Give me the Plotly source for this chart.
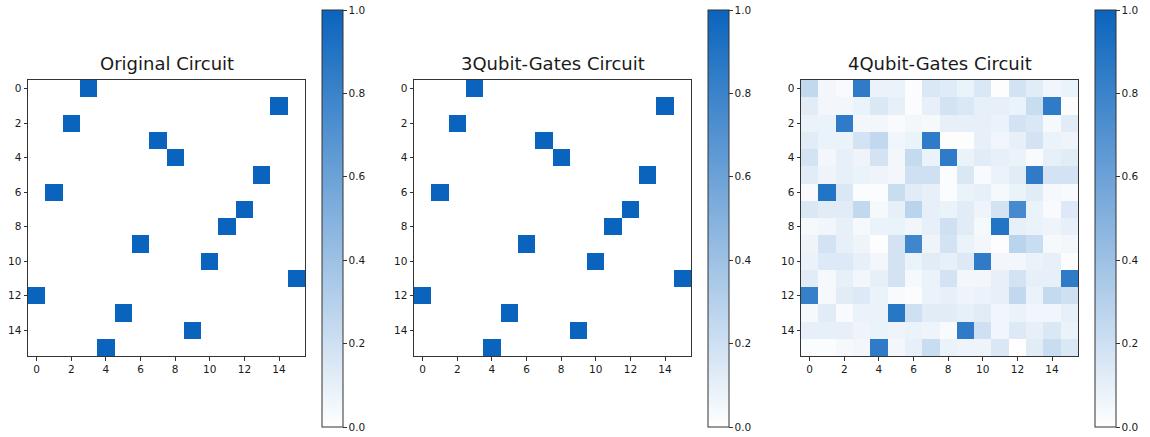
import plotly.graph_objects as go

# permutation: row index -> column of the 1 entry
perm_cols = [3, 14, 2, 7, 8, 13, 1, 12, 11, 6, 10, 15, 0, 5, 9, 4]
titles = ["Original Circuit", "3Qubit-Gates Circuit", "4Qubit-Gates Circuit"]
tick_vals = [0, 2, 4, 6, 8, 10, 12, 14]
cbar_ticks = [0.0, 0.2, 0.4, 0.6, 0.8, 1.0]

original = [[1.0 if c == perm_cols[r] else 0.0 for c in range(16)] for r in range(16)]
qubit3 = [[1.0 if c == perm_cols[r] else 0.0 for c in range(16)] for r in range(16)]
qubit4 = [
    [0.25, 0.05, 0.03, 0.85, 0.08, 0.08, 0.02, 0.15, 0.13, 0.08, 0.15, 0.01, 0.18, 0.12, 0.06, 0.08],
    [0.12, 0.05, 0.05, 0.08, 0.15, 0.10, 0.02, 0.10, 0.18, 0.15, 0.10, 0.10, 0.08, 0.22, 0.85, 0.02],
    [0.08, 0.08, 0.85, 0.05, 0.05, 0.03, 0.05, 0.04, 0.10, 0.10, 0.10, 0.08, 0.18, 0.15, 0.04, 0.12],
    [0.12, 0.08, 0.08, 0.18, 0.25, 0.06, 0.08, 0.85, 0.01, 0.01, 0.10, 0.06, 0.10, 0.18, 0.08, 0.07],
    [0.18, 0.05, 0.10, 0.07, 0.18, 0.05, 0.24, 0.08, 0.85, 0.08, 0.12, 0.10, 0.08, 0.03, 0.10, 0.12],
    [0.12, 0.07, 0.10, 0.08, 0.07, 0.05, 0.20, 0.20, 0.02, 0.15, 0.03, 0.08, 0.12, 0.85, 0.18, 0.18],
    [0.03, 0.90, 0.15, 0.02, 0.02, 0.22, 0.12, 0.10, 0.02, 0.08, 0.10, 0.04, 0.08, 0.12, 0.04, 0.03],
    [0.15, 0.12, 0.12, 0.25, 0.04, 0.10, 0.28, 0.10, 0.08, 0.12, 0.07, 0.18, 0.75, 0.08, 0.03, 0.14],
    [0.04, 0.06, 0.10, 0.04, 0.08, 0.08, 0.06, 0.10, 0.20, 0.12, 0.04, 0.90, 0.10, 0.08, 0.07, 0.10],
    [0.07, 0.18, 0.10, 0.07, 0.01, 0.18, 0.78, 0.07, 0.18, 0.08, 0.05, 0.01, 0.28, 0.22, 0.04, 0.05],
    [0.08, 0.14, 0.14, 0.10, 0.05, 0.18, 0.08, 0.12, 0.10, 0.14, 0.85, 0.05, 0.05, 0.08, 0.10, 0.02],
    [0.12, 0.04, 0.10, 0.05, 0.10, 0.18, 0.04, 0.08, 0.18, 0.05, 0.05, 0.10, 0.18, 0.10, 0.10, 0.85],
    [0.82, 0.04, 0.12, 0.14, 0.08, 0.03, 0.02, 0.08, 0.10, 0.07, 0.08, 0.10, 0.25, 0.08, 0.24, 0.20],
    [0.04, 0.12, 0.03, 0.08, 0.08, 0.88, 0.20, 0.12, 0.12, 0.10, 0.12, 0.06, 0.08, 0.06, 0.06, 0.10],
    [0.10, 0.10, 0.10, 0.07, 0.08, 0.07, 0.08, 0.07, 0.03, 0.85, 0.20, 0.06, 0.14, 0.10, 0.15, 0.08],
    [0.02, 0.02, 0.04, 0.05, 0.85, 0.05, 0.10, 0.22, 0.08, 0.07, 0.07, 0.15, 0.00, 0.12, 0.22, 0.15],
]
matrices = [original, qubit3, qubit4]

W, H = 1150, 437
plot_left = [28, 414, 801]
plot_w = 277
plot_top, plot_bottom = 80, 356
cbar_left = [322, 708, 1095]
cbar_top, cbar_bottom = 10, 427

colorscale = [[0.0, "#ffffff"], [1.0, "#0a64bd"]]
FONT = "DejaVu Sans"
INK = "#1a1a1a"

fig = go.Figure()
for i, z in enumerate(matrices):
    ax = "" if i == 0 else str(i + 1)
    fig.add_trace(go.Heatmap(
        z=z, x=list(range(16)), y=list(range(16)),
        xaxis="x" + ax, yaxis="y" + ax,
        zmin=0, zmax=1, colorscale=colorscale,
        hoverinfo="skip",
        colorbar=dict(
            x=cbar_left[i] / W, xanchor="left",
            y=1 - (cbar_top + cbar_bottom) / 2 / H, yanchor="middle",
            len=(cbar_bottom - cbar_top) / H, lenmode="fraction",
            thickness=21, thicknessmode="pixels",
            xpad=0, ypad=0,
            outlinecolor="#333", outlinewidth=1,
            tickvals=cbar_ticks, tickformat=".1f",
            ticks="outside", ticklen=3.5, tickcolor="#333",
            ticklabeloverflow="allow",
            tickfont=dict(family=FONT, size=10.5, color=INK),
        ),
    ))
    xd = [plot_left[i] / W, (plot_left[i] + plot_w) / W]
    yd = [1 - plot_bottom / H, 1 - plot_top / H]
    common = dict(showgrid=False, zeroline=False, showline=True, linecolor="#333",
                  linewidth=1, mirror=True, ticks="outside", ticklen=3.5, tickcolor="#333",
                  tickvals=tick_vals, tickfont=dict(family=FONT, size=10.5, color=INK))
    fig.update_layout({
        "xaxis" + ax: dict(domain=xd, range=[-0.5, 15.5], anchor="y" + ax, **common),
        "yaxis" + ax: dict(domain=yd, range=[15.5, -0.5], anchor="x" + ax, **common),
    })
    fig.add_annotation(text=titles[i], xref="paper", yref="paper",
                       x=(plot_left[i] + plot_w / 2) / W, y=1 - (plot_top - 4) / H,
                       xanchor="center", yanchor="bottom", showarrow=False,
                       font=dict(family=FONT, size=18, color=INK))

fig.update_layout(width=W, height=H, margin=dict(l=0, r=0, t=0, b=0),
                  paper_bgcolor="white", plot_bgcolor="white", showlegend=False)
# remove the default 8px page margin so the figure fills the window exactly
fig.write_html("out.html", config={"displayModeBar": False},
               post_script="document.body.style.margin='0';")
